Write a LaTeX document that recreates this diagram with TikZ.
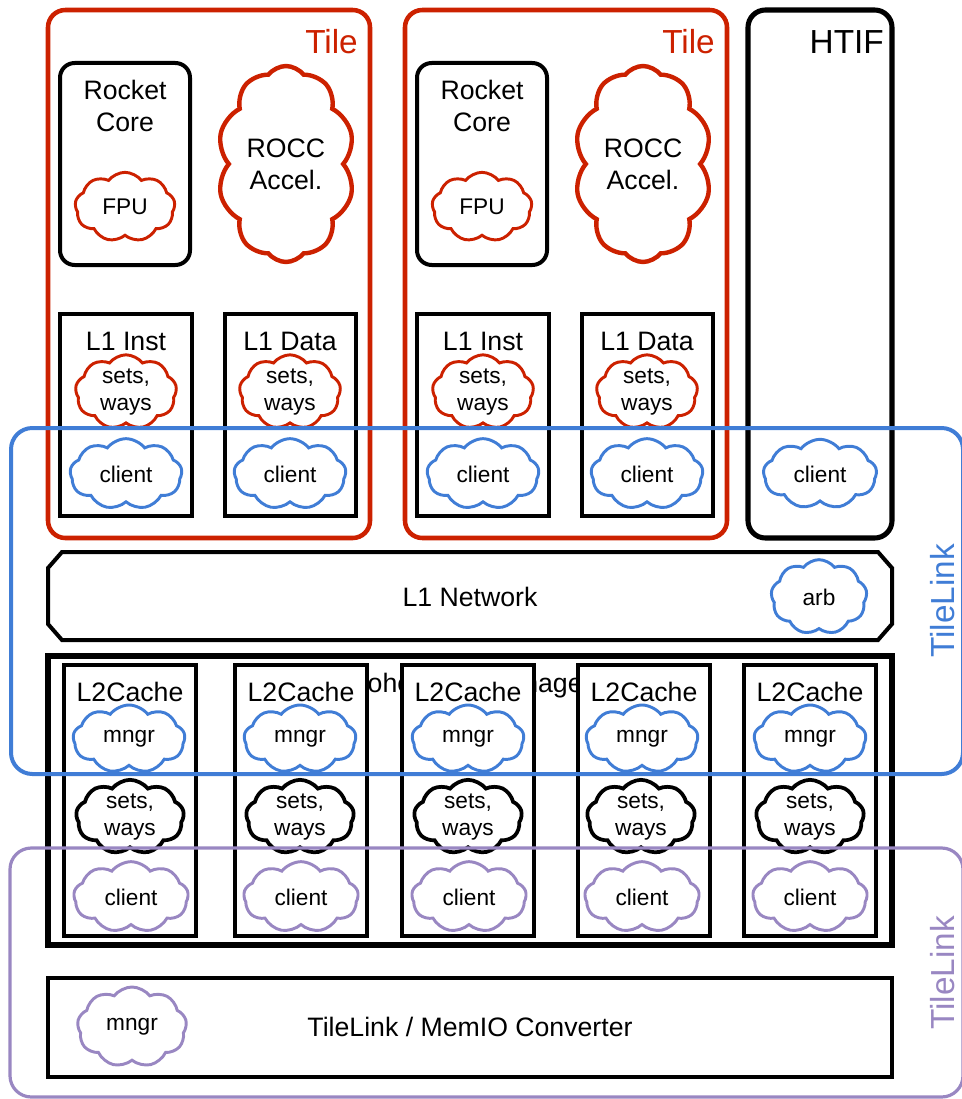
\documentclass[tikz,border=0pt]{standalone}
\usepackage{fontspec}
\setmainfont{Liberation Sans}
\definecolor{tilered}{rgb}{0.80, 0.13, 0.0}
\definecolor{linkblue}{rgb}{0.25, 0.49, 0.84}
\definecolor{linkpurple}{rgb}{0.60, 0.53, 0.76}
\usetikzlibrary{shapes.symbols,positioning}

\newcommand{\mainsize}{\fontsize{20}{24}\selectfont}
\newcommand{\smallsize}{\fontsize{17}{20.5}\selectfont}
\newcommand{\bigsize}{\fontsize{25}{30}\selectfont}

\tikzset{
  puff/.style={cloud, cloud puffs=9, cloud puff arc=105, cloud ignores aspect, inner sep=0pt, align=center, fill=white, font=\smallsize, line width=2.2},
  redpuff/.style={puff, draw=tilered},
  bluepuff/.style={puff, draw=linkblue},
  purplepuff/.style={puff, draw=linkpurple},
  blackpuff/.style={puff, draw=black, line width=2.8},
  maintext/.style={font=\mainsize, align=center, inner sep=0pt},
}

\begin{document}
\begin{tikzpicture}[x=0.75pt,y=0.75pt,yscale=-1,xscale=1]
	\useasboundingbox (0,0) rectangle (962,1099);
	
	%Shape: Tile 1
	\draw [color=tilered, line width=3.4, rounded corners=13] (48,10) rectangle (370,538);
	%Shape: Tile 2
	\draw [color=tilered, line width=3.4, rounded corners=13] (405,10) rectangle (727,538);
	%Shape: HTIF
	\draw [color=black, line width=3.8, rounded corners=13] (748,10) rectangle (892,538);
	
	% Text Node
	\draw (358,42) node [anchor=east, inner sep=0pt, color=tilered, font=\bigsize] (tileA) {Tile};
	\draw (715,42) node [anchor=east, inner sep=0pt, color=tilered, font=\bigsize] (tileB) {Tile};
	\draw (884,42) node [anchor=east, inner sep=0pt, font=\bigsize] (htif) {HTIF};
	
	%Shape: Rocket Core boxes
	\draw [line width=3, rounded corners=11] (60,63) rectangle (190,265);
	\draw [line width=3, rounded corners=11] (417,63) rectangle (547,265);
	% Text Node
	\draw (125,106) node [maintext] (coreA) {Rocket\\Core};
	\draw (482,106) node [maintext] (coreB) {Rocket\\Core};
	% Cloud Node
	\draw (125,207) node [redpuff, minimum width=75pt, minimum height=52pt] (fpuA) {FPU};
	\draw (482,207) node [redpuff, minimum width=75pt, minimum height=52pt] (fpuB) {FPU};
	\draw (286,164) node [redpuff, cloud puffs=10, line width=3.3, font=\mainsize, minimum width=103pt, minimum height=147pt] (roccA) {ROCC\\Accel.};
	\draw (643,164) node [redpuff, cloud puffs=10, line width=3.3, font=\mainsize, minimum width=103pt, minimum height=147pt] (roccB) {ROCC\\Accel.};
	
	%Shape: L1 cache boxes
	\draw [line width=2.5] (60,314) rectangle (192,516);
	\draw [line width=2.5] (225,314) rectangle (356,516);
	\draw [line width=2.5] (417,314) rectangle (549,516);
	\draw [line width=2.5] (582,314) rectangle (713,516);
	% Text Node
	\draw (126,341) node [maintext] (instA) {L1 Inst};
	\draw (290,341) node [maintext] (dataA) {L1 Data};
	\draw (483,341) node [maintext] (instB) {L1 Inst};
	\draw (647,341) node [maintext] (dataB) {L1 Data};
	% Cloud Node
	\draw (126,392) node [redpuff, minimum width=76pt, minimum height=53pt] (setsIA) {sets,\\ways};
	\draw (290,392) node [redpuff, minimum width=76pt, minimum height=53pt] (setsDA) {sets,\\ways};
	\draw (483,392) node [redpuff, minimum width=76pt, minimum height=53pt] (setsIB) {sets,\\ways};
	\draw (647,392) node [redpuff, minimum width=76pt, minimum height=53pt] (setsDB) {sets,\\ways};
	\draw (126,474) node [bluepuff, minimum width=84pt, minimum height=53pt] (clientIA) {client};
	\draw (290,474) node [bluepuff, minimum width=84pt, minimum height=53pt] (clientDA) {client};
	\draw (483,474) node [bluepuff, minimum width=84pt, minimum height=53pt] (clientIB) {client};
	\draw (647,474) node [bluepuff, minimum width=84pt, minimum height=53pt] (clientDB) {client};
	\draw (820,474) node [bluepuff, minimum width=85pt, minimum height=52pt] (clientH) {client};
	
	%Shape: L1 Network
	\draw [line width=3] (62,552) -- (878,552) -- (892,568) -- (892,624) -- (878,640) -- (62,640) -- (48,624) -- (48,568) -- cycle;
	\draw (470,597) node [maintext] (net) {L1 Network};
	\draw (819,597) node [bluepuff, minimum width=72pt, minimum height=56pt] (arb) {arb};
	
	%Shape: Coherence Manager
	\draw [line width=4.5] (48,656) rectangle (892,945);
	\draw (470,686) node [maintext] (coh) {Coherence Manager};
	
	%Shape: L2Cache banks
	\draw [line width=2.5, fill=white] (64,665) rectangle (196,936);
	\draw [line width=2.5, fill=white] (235,665) rectangle (367,936);
	\draw [line width=2.5, fill=white] (402,665) rectangle (534,936);
	\draw [line width=2.5, fill=white] (578,665) rectangle (710,936);
	\draw [line width=2.5, fill=white] (744,665) rectangle (876,936);
	% Text Node
	\draw (130,692) node [maintext] (bankA) {L2Cache};
	\draw (301,692) node [maintext] (bankB) {L2Cache};
	\draw (468,692) node [maintext] (bankC) {L2Cache};
	\draw (644,692) node [maintext] (bankD) {L2Cache};
	\draw (810,692) node [maintext] (bankE) {L2Cache};
	% Cloud Node
	\draw (129,739) node [bluepuff, minimum width=84pt, minimum height=51pt] (mngrA) {mngr};
	\draw (300,739) node [bluepuff, minimum width=84pt, minimum height=51pt] (mngrB) {mngr};
	\draw (468,739) node [bluepuff, minimum width=84pt, minimum height=51pt] (mngrC) {mngr};
	\draw (642,739) node [bluepuff, minimum width=84pt, minimum height=51pt] (mngrD) {mngr};
	\draw (810,739) node [bluepuff, minimum width=84pt, minimum height=51pt] (mngrE) {mngr};
	\draw (130,817) node [blackpuff, minimum width=81pt, minimum height=53pt] (setsA) {sets,\\ways};
	\draw (300,817) node [blackpuff, minimum width=81pt, minimum height=53pt] (setsB) {sets,\\ways};
	\draw (468,817) node [blackpuff, minimum width=81pt, minimum height=53pt] (setsC) {sets,\\ways};
	\draw (641,817) node [blackpuff, minimum width=81pt, minimum height=53pt] (setsD) {sets,\\ways};
	\draw (810,817) node [blackpuff, minimum width=81pt, minimum height=53pt] (setsE) {sets,\\ways};
	\draw (131,897) node [purplepuff, minimum width=86pt, minimum height=53pt] (clientA) {client};
	\draw (301,897) node [purplepuff, minimum width=86pt, minimum height=53pt] (clientB) {client};
	\draw (469,897) node [purplepuff, minimum width=86pt, minimum height=53pt] (clientC) {client};
	\draw (642,897) node [purplepuff, minimum width=86pt, minimum height=53pt] (clientD) {client};
	\draw (810,897) node [purplepuff, minimum width=86pt, minimum height=53pt] (clientE) {client};
	
	%Shape: Converter
	\draw [line width=2.6] (48,978) rectangle (892,1077);
	\draw (132,1027) node [purplepuff, minimum width=82pt, minimum height=60pt] (mngrM) {mngr};
	\draw (470,1027) node [maintext] (conv) {TileLink / MemIO Converter};
	
	%Shape: TileLink regions
	\draw [color=linkblue, line width=3, rounded corners=16] (11,428) rectangle (963,774);
	\draw [color=linkpurple, line width=2.4, rounded corners=16] (10,848) rectangle (963,1097);
	% Text Node
	\draw (943,601) node [rotate=90, inner sep=0pt, color=linkblue, font=\bigsize] (linkA) {TileLink};
	\draw (943,973) node [rotate=90, inner sep=0pt, color=linkpurple, font=\bigsize] (linkB) {TileLink};
	
\end{tikzpicture}
\end{document}
